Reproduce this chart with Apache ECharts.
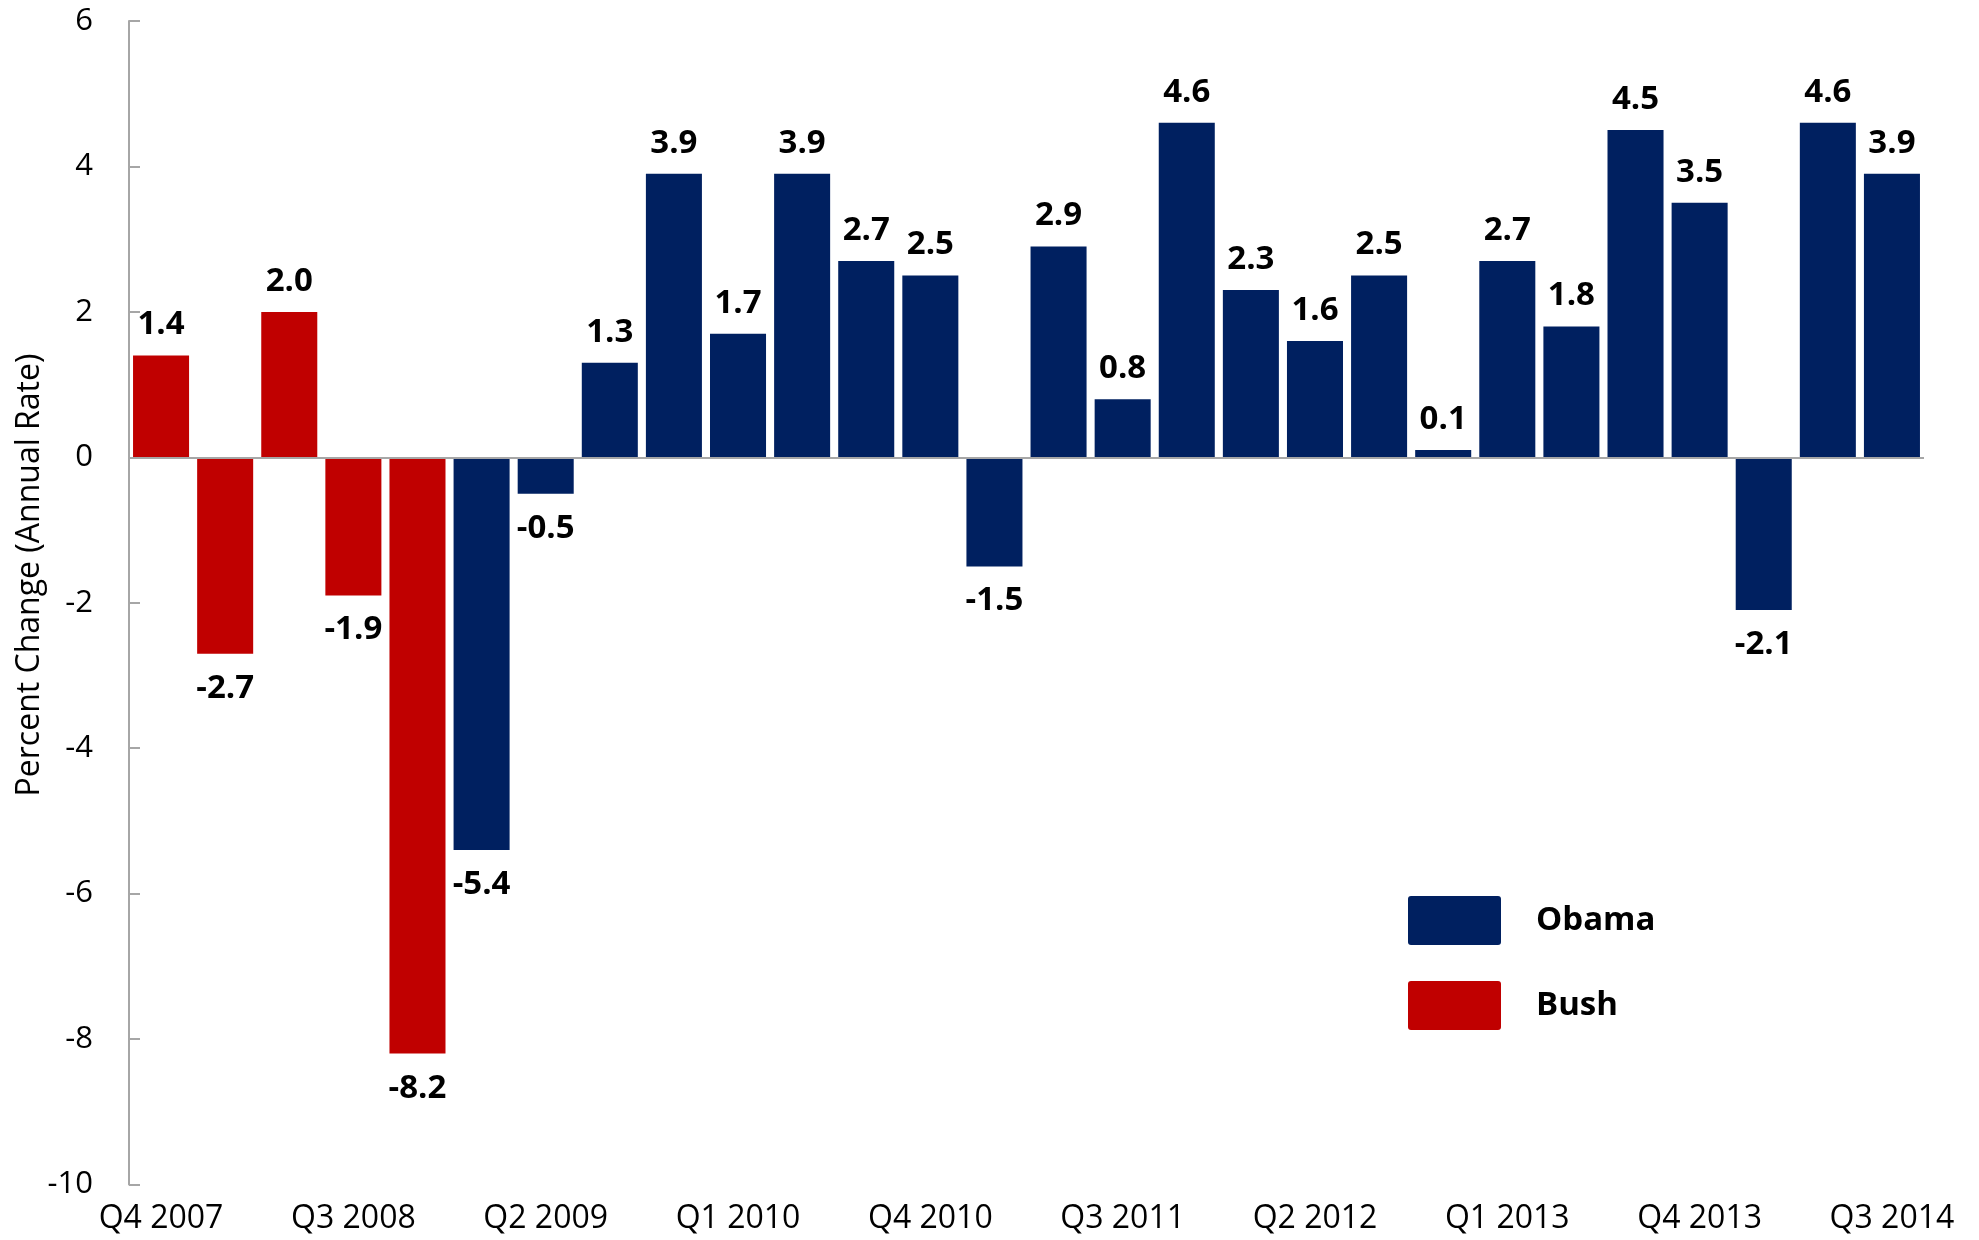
<!DOCTYPE html>
<html>
<head>
<meta charset="utf-8">
<script src="https://cdn.jsdelivr.net/npm/echarts@6/dist/echarts.min.js"></script>
<style>
html,body{margin:0;padding:0;background:#fff;}
#chart{width:1979px;height:1240px;}
</style>
</head>
<body>
<div id="chart"></div>
<script>
const quarters = [
  'Q4 2007','Q1 2008','Q2 2008','Q3 2008','Q4 2008',
  'Q1 2009','Q2 2009','Q3 2009','Q4 2009',
  'Q1 2010','Q2 2010','Q3 2010','Q4 2010',
  'Q1 2011','Q2 2011','Q3 2011','Q4 2011',
  'Q1 2012','Q2 2012','Q3 2012','Q4 2012',
  'Q1 2013','Q2 2013','Q3 2013','Q4 2013',
  'Q1 2014','Q2 2014','Q3 2014'
];
const gdpGrowth = [
  1.4, -2.7, 2.0, -1.9, -8.2,
  -5.4, -0.5, 1.3, 3.9,
  1.7, 3.9, 2.7, 2.5,
  -1.5, 2.9, 0.8, 4.6,
  2.3, 1.6, 2.5, 0.1,
  2.7, 1.8, 4.5, 3.5,
  -2.1, 4.6, 3.9
];
const administration = [
  'Bush','Bush','Bush','Bush','Bush',
  'Obama','Obama','Obama','Obama',
  'Obama','Obama','Obama','Obama',
  'Obama','Obama','Obama','Obama',
  'Obama','Obama','Obama','Obama',
  'Obama','Obama','Obama','Obama',
  'Obama','Obama','Obama'
];
const yTicks = { min: -10, max: 6, interval: 2 };
const seriesNames = ['Obama', 'Bush'];
const seriesColors = { Obama: '#002060', Bush: '#C00000' };

function seriesData(name) {
  return gdpGrowth.map((v, i) => {
    if (administration[i] !== name) return '-';
    return {
      value: v,
      label: v < 0 ? { position: 'bottom', distance: 18 } : { position: 'top', distance: 14 }
    };
  });
}

const FONT = '"Open Sans", sans-serif';
const chart = echarts.init(document.getElementById('chart'));

const series = seriesNames.map((name, k) => ({
  name: name,
  type: 'bar',
  data: seriesData(name),
  barWidth: '87.4%',
  barGap: '-100%',
  itemStyle: { color: seriesColors[name] },
  label: {
    show: true,
    formatter: p => Number(p.value).toFixed(1),
    fontFamily: FONT,
    fontWeight: 'bold',
    fontSize: 33,
    color: '#000'
  },
  markLine: k === 0 ? {
    silent: true,
    symbol: 'none',
    label: { show: false },
    lineStyle: { color: '#a6a6a6', width: 2, type: 'solid' },
    data: [{ yAxis: 0 }],
    animation: false
  } : undefined,
  animation: false
}));

chart.setOption({
  backgroundColor: '#fff',
  animation: false,
  grid: { left: 129, right: 55, top: 21, bottom: 55.5, containLabel: false },
  legend: {
    orient: 'vertical',
    left: 1403,
    top: 891,
    itemWidth: 93,
    itemHeight: 49,
    itemGap: 36,
    icon: 'path://M3,0 H90 A3,3 0 0 1 93,3 V46 A3,3 0 0 1 90,49 H3 A3,3 0 0 1 0,46 V3 A3,3 0 0 1 3,0 Z',
    data: seriesNames,
    textStyle: {
      fontFamily: FONT,
      fontWeight: 'bold',
      fontSize: 33,
      color: '#000',
      padding: [0, 0, 0, 30]
    }
  },
  xAxis: {
    type: 'category',
    data: quarters,
    axisLine: { show: false, onZero: false },
    axisTick: { show: false },
    axisLabel: {
      interval: 2,
      fontFamily: FONT,
      fontSize: 32,
      color: '#000',
      margin: 18
    },
    splitLine: { show: false }
  },
  yAxis: {
    type: 'value',
    min: yTicks.min,
    max: yTicks.max,
    interval: yTicks.interval,
    axisLine: { show: true, lineStyle: { color: '#a6a6a6', width: 2 } },
    axisTick: { show: true, inside: true, length: 11, lineStyle: { color: '#a6a6a6', width: 2 } },
    axisLabel: {
      fontFamily: FONT,
      fontSize: 31,
      color: '#000',
      margin: 36
    },
    splitLine: { show: false }
  },
  graphic: [{
    type: 'text',
    x: 30,
    y: 575,
    rotation: Math.PI / 2,
    style: {
      text: 'Percent Change (Annual Rate)',
      fontFamily: FONT,
      fontSize: 32,
      fill: '#000',
      align: 'center',
      verticalAlign: 'middle'
    }
  }],
  series: series
});
</script>
</body>
</html>
